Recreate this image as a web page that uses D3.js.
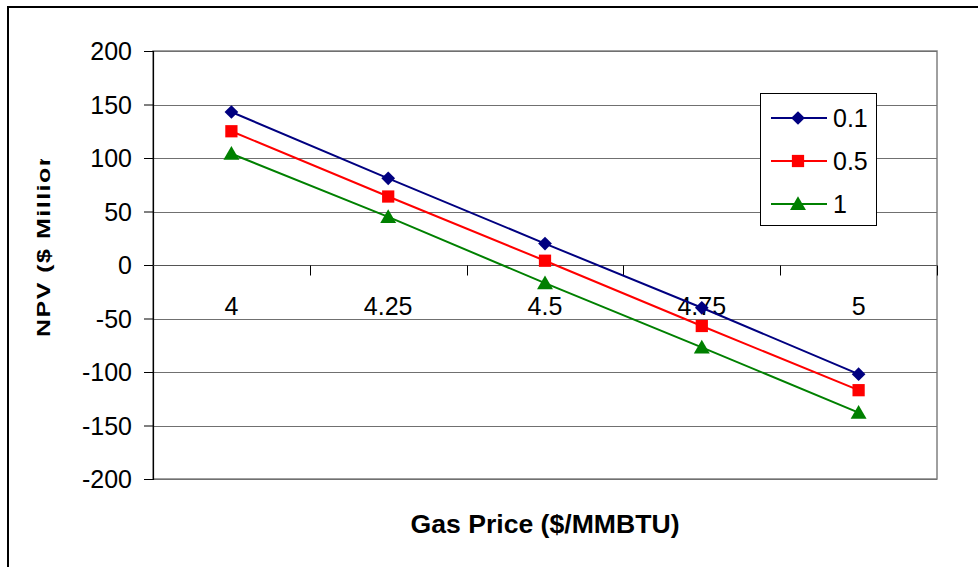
<!DOCTYPE html>
<html>
<head>
<meta charset="utf-8">
<script src="https://cdn.jsdelivr.net/npm/d3@7"></script>
<style>
  html, body { margin: 0; padding: 0; background: #fff; }
  svg { display: block; }
  text { font-family: "Liberation Sans", Arial, sans-serif; fill: #000; }
</style>
</head>
<body>
<svg id="chart" width="978" height="567"></svg>
<script>
// Gas price scenarios ($/MMBTU)
const categories = ["4", "4.25", "4.5", "4.75", "5"];
// NPV ($ Million) for each sensitivity value
const seriesNames = ["0.1", "0.5", "1"];
const npv01 = [143, 81, 20, -40, -102];
const npv05 = [125, 64, 4, -57, -117];
const npv1  = [104, 45, -17, -77, -138];
const yTicks = [200, 150, 100, 50, 0, -50, -100, -150, -200];

const seriesColors = ["#000080", "#FF0000", "#008000"];
const seriesShapes = [d3.symbolDiamond2, d3.symbolSquare, d3.symbolTriangle];
const series = [npv01, npv05, npv1].map((vals, i) => ({
  name: seriesNames[i], values: vals, color: seriesColors[i], shape: seriesShapes[i]
}));

const svg = d3.select("#chart");
const plot = { left: 153, right: 937, top: 51, bottom: 479 };

// outer chart frame
svg.append("rect")
  .attr("x", 8).attr("y", 7).attr("width", 1000).attr("height", 600)
  .attr("fill", "#fff").attr("stroke", "#000").attr("stroke-width", 2);

const x = d3.scaleBand().domain(categories).range([plot.left, plot.right]).padding(0);
const y = d3.scaleLinear().domain([-200, 200]).range([plot.bottom, plot.top]);
const cx = c => x(c) + x.bandwidth() / 2;

// plot area
svg.append("rect")
  .attr("x", plot.left).attr("y", plot.top)
  .attr("width", plot.right - plot.left).attr("height", plot.bottom - plot.top)
  .attr("fill", "#fff").attr("stroke", "#808080").attr("stroke-width", 1.5);

// horizontal gridlines
svg.append("g").selectAll("line").data(yTicks).join("line")
  .attr("x1", plot.left).attr("x2", plot.right)
  .attr("y1", d => Math.round(y(d)) + 0.5).attr("y2", d => Math.round(y(d)) + 0.5)
  .attr("stroke", "#707070").attr("stroke-width", 1.2);

// value axis (plain hyphen for negatives)
const yAxis = d3.axisLeft(y).tickValues(yTicks).tickSize(9).tickPadding(12).tickFormat(d => String(d));
const gy = svg.append("g").attr("transform", `translate(${plot.left},0)`).call(yAxis);
gy.select(".domain").attr("stroke", "#000").attr("stroke-width", 1.2);
gy.selectAll(".tick line").attr("stroke", "#000");
gy.selectAll(".tick text")
  .style("font-family", '"Liberation Sans", Arial, sans-serif')
  .style("font-size", "25px").attr("fill", "#000").attr("dy", "0.34em");

// category axis drawn at zero, ticks on category boundaries
const y0 = Math.round(y(0)) + 0.5;
const gx = svg.append("g");
gx.append("line").attr("x1", plot.left).attr("x2", plot.right)
  .attr("y1", y0).attr("y2", y0).attr("stroke", "#555").attr("stroke-width", 1.2);
const boundaries = categories.map(c => x(c)).concat([plot.right]);
gx.selectAll("line.tk").data(boundaries).join("line").attr("class", "tk")
  .attr("x1", d => Math.round(d) + 0.5).attr("x2", d => Math.round(d) + 0.5)
  .attr("y1", y0).attr("y2", y0 + 10).attr("stroke", "#000").attr("stroke-width", 1);
gx.selectAll("text").data(categories).join("text")
  .attr("x", d => cx(d)).attr("y", y0 + 49)
  .attr("text-anchor", "middle").style("font-size", "25px").text(d => d);

// series lines and markers
const line = d3.line().x((v, i) => cx(categories[i])).y(v => y(v));
series.forEach(s => {
  svg.append("path").datum(s.values)
    .attr("d", line).attr("fill", "none")
    .attr("stroke", s.color).attr("stroke-width", 2);
});
const markerSize = s => s.shape === d3.symbolTriangle ? 110 : (s.shape === d3.symbolSquare ? 150 : 120);
series.forEach(s => {
  const sym = d3.symbol().type(s.shape).size(markerSize(s));
  svg.append("g").selectAll("path").data(s.values).join("path")
    .attr("transform", (v, i) => `translate(${cx(categories[i])},${y(v) + (s.shape === d3.symbolTriangle ? 1.5 : 0)})`)
    .attr("d", sym).attr("fill", s.color);
});

// legend
const legend = svg.append("g");
legend.append("rect").attr("x", 760.5).attr("y", 93.5).attr("width", 116).attr("height", 132)
  .attr("fill", "#fff").attr("stroke", "#000").attr("stroke-width", 1);
series.forEach((s, i) => {
  const ly = 118 + i * 43;
  legend.append("line").attr("x1", 771).attr("x2", 827).attr("y1", ly).attr("y2", ly)
    .attr("stroke", s.color).attr("stroke-width", 2);
  const sym = d3.symbol().type(s.shape).size(markerSize(s));
  legend.append("path").attr("transform", `translate(798,${ly + (s.shape === d3.symbolTriangle ? 1.5 : 0)})`)
    .attr("d", sym).attr("fill", s.color);
  legend.append("text").attr("x", 833).attr("y", ly + 9).style("font-size", "25px").text(s.name);
});

// axis titles
svg.append("text").attr("x", (plot.left + plot.right) / 2).attr("y", 533)
  .attr("text-anchor", "middle").style("font-size", "25px").style("font-weight", "bold")
  .attr("textLength", 269).attr("lengthAdjust", "spacingAndGlyphs")
  .text("Gas Price ($/MMBTU)");

svg.append("clipPath").attr("id", "ytitle-clip")
  .append("rect").attr("x", 0).attr("y", 159).attr("width", 100).attr("height", 400);
svg.append("g").attr("clip-path", "url(#ytitle-clip)")
  .append("text")
  .attr("transform", "translate(50,337) rotate(-90) scale(1,0.72)")
  .attr("text-anchor", "start").style("font-size", "25px").style("font-weight", "bold")
  .style("letter-spacing", "1.5px")
  .text("NPV ($ Million)");
</script>
</body>
</html>
